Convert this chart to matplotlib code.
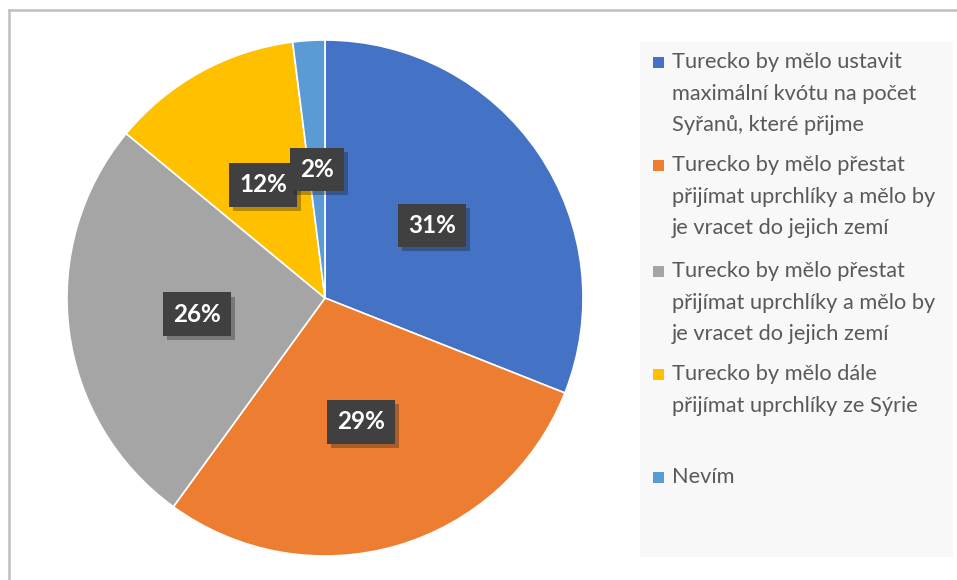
import matplotlib.pyplot as plt
from matplotlib.lines import Line2D
from matplotlib.patches import Rectangle
import matplotlib.patheffects as pe

labels = [
    "Turecko by mělo ustavit\nmaximální kvótu na počet\nSyřanů, které přijme",
    "Turecko by mělo přestat\npřijímat uprchlíky a mělo by\nje vracet do jejich zemí",
    "Turecko by mělo přestat\npřijímat uprchlíky a mělo by\nje vracet do jejich zemí",
    "Turecko by mělo dále\npřijímat uprchlíky ze Sýrie",
    "Nevím",
]
values = [31, 29, 26, 12, 2]
colors = ["#4472C4", "#ED7D31", "#A5A5A5", "#FFC000", "#5B9BD5"]

W, H = 957, 580
fig = plt.figure(figsize=(W / 100, H / 100), dpi=100)

# pie axes: center (325, 298) px, radius 258 px
cx, cy, r = 325, 298, 258
ax = fig.add_axes([(cx - r) / W, (H - cy - r) / H, 2 * r / W, 2 * r / H])
wedges, texts, autotexts = ax.pie(
    values, colors=colors, startangle=90, counterclock=False,
    autopct="%1.0f%%", pctdistance=0.5,
    wedgeprops=dict(edgecolor="white", linewidth=1.2),
)
ax.set_xlim(-1, 1)
ax.set_ylim(-1, 1)
ax.set_aspect("equal")

for t in autotexts:
    t.set_fontfamily("Lato")
    t.set_fontweight("bold")
    t.set_fontsize(17.5)
    t.set_color("white")
    t.set_bbox(dict(boxstyle="square,pad=0.42", facecolor="#404040",
                    edgecolor="none", linewidth=0))
    t.get_bbox_patch().set_path_effects(
        [pe.SimplePatchShadow(offset=(3, -3), alpha=0.3), pe.Normal()])

# legend box
fig.add_artist(Rectangle((640 / W, (H - 557) / H), 313 / W, 515 / H,
                         transform=fig.transFigure, facecolor="#F8F8F8",
                         edgecolor="none", zorder=0))
tops = [62, 165, 271, 374, 477]
for lab, col, y in zip(labels, colors, tops):
    fig.add_artist(Rectangle((653 / W, (H - y - 5.5) / H), 11 / W, 11 / H,
                             transform=fig.transFigure, facecolor=col,
                             edgecolor="none"))
    fig.text(672 / W, (H - y + 10) / H, lab, fontfamily="Lato", fontsize=15.7,
             color="#595959", va="top", ha="left", linespacing=1.72)

# outer frame (top and left edges)
fig.add_artist(Line2D([9 / W, 9 / W], [0, (H - 10) / H], color="#BFBFBF",
                      linewidth=1.8, transform=fig.transFigure))
fig.add_artist(Line2D([9 / W, 1], [(H - 10) / H, (H - 10) / H], color="#BFBFBF",
                      linewidth=1.8, transform=fig.transFigure))

fig.savefig("out.png", dpi=100)
